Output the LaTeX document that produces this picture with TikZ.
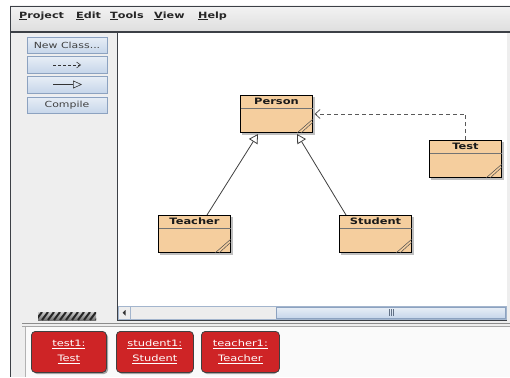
\documentclass[tikz,border=0pt]{standalone}
\usepackage{fontspec}
\newfontfamily\uifont[FakeStretch=1.3]{DejaVu Sans}
\usetikzlibrary{arrows.meta,calc}
\definecolor{peach}{RGB}{245,206,158}
\definecolor{objred}{RGB}{206,36,38}
\definecolor{panelgray}{RGB}{238,238,238}
\definecolor{benchbg}{RGB}{250,250,250}
\definecolor{btnborder}{RGB}{140,162,192}
\definecolor{btntop}{RGB}{232,238,246}
\definecolor{btnbot}{RGB}{198,214,234}
\definecolor{framedark}{RGB}{60,64,70}
\tikzset{
  classbox/.style={draw=black, line width=1pt, fill=peach, minimum width=72pt, minimum height=37pt, anchor=north west, inner sep=0pt},
  classname/.style={font=\uifont\bfseries\fontsize{8.8}{10}\selectfont, anchor=north, inner sep=0pt, text=black!90},
  btn/.style={draw=btnborder, top color=btntop, bottom color=btnbot, minimum width=80pt, minimum height=16.5pt, inner sep=0pt, font=\uifont\fontsize{8.4}{9}\selectfont, text=black!75},
  objbox/.style={draw=black!75, line width=0.8pt, fill=objred, rounded corners=4pt, minimum width=75pt, minimum height=41pt, anchor=north west, inner sep=0pt},
  objtext/.style={text=white, font=\uifont\fontsize{8.8}{15}\selectfont, align=center, inner sep=0pt},
  menuitem/.style={font=\uifont\bfseries\fontsize{8.6}{10}\selectfont, anchor=west, inner sep=0pt, text=black!85},
  inherit/.style={draw=black!75, line width=0.8pt, -{Triangle[open, length=9pt, width=10pt, fill=white]}},
  uses/.style={draw=black!65, line width=0.8pt, dash pattern=on 4pt off 3pt, -{Straight Barb[length=5pt, width=9pt]}},
  hatch/.style={draw=black!70, line width=0.5pt}
}
\newcommand{\hatchmarks}[1]{%
  \draw[hatch] ($(#1.south east)+(-16,0)$) -- ($(#1.south east)+(0,-14)$);
  \draw[hatch] ($(#1.south east)+(-12,0)$) -- ($(#1.south east)+(0,-11)$);}
\begin{document}
\begin{tikzpicture}[x=1pt,y=-1pt]
\useasboundingbox (0,0) rectangle (510,377);
\fill[white] (0,0) rectangle (510,377);
% window panels
\fill[panelgray] (10,6) rectangle (510,377);
\shade[top color=white!95!black, bottom color=black!13] (10,6) rectangle (510,32);
\draw[framedark, line width=1.2pt] (10,6.5) -- (510,6.5);
\draw[framedark, line width=1.2pt] (10,32) -- (510,32);
\draw[framedark, line width=1pt] (10.5,6) -- (10.5,377);
% menu
\node[menuitem] (mproject) at (19,16) {\underline{P}roject};
\node[menuitem] (medit) at (76,16) {\underline{E}dit};
\node[menuitem] (mtools) at (110,16) {\underline{T}ools};
\node[menuitem] (mview) at (154,16) {\underline{V}iew};
\node[menuitem] (mhelp) at (198,16) {\underline{H}elp};
% buttons
\node[btn] (bnew) at (67,45) {New Class...};
\node[btn] (bdep) at (67,64.5) {};
\node[btn] (binh) at (67,84.5) {};
\node[btn] (bcomp) at (67,105) {Compile};
\coordinate (d1) at (53,65);
\coordinate (d2) at (81,65);
\draw[black!80, line width=0.6pt, dash pattern=on 3pt off 2pt, -{Straight Barb[length=4pt, width=6pt]}] (d1) -- (d2);
\coordinate (i1) at (53,84.5);
\coordinate (i2) at (82,84.5);
\draw[black!80, line width=0.6pt, -{Triangle[open, length=9pt, width=8pt]}] (i1) -- (i2);
% canvas
\fill[white] (117,33) rectangle (507,320);
\draw[framedark, line width=1pt] (117.5,33) -- (117.5,320.5) -- (507,320.5);
% scrollbar
\fill[black!7] (118.5,306.5) rectangle (506,319);
\draw[btnborder!80] (118.5,306.5) rectangle (506,319);
\draw[btnborder!80] (130,306.5) -- (130,319);
\fill[black!80] (125.5,310) -- (125.5,315.5) -- (122.5,312.75) -- cycle;
\shade[top color=btntop, bottom color=btnbot, draw=btnborder] (276,307) rectangle (505,318.5);
\foreach \gx in {389,391,393} \draw[btnborder!70!black] (\gx,309) -- (\gx,316);
% separators
\draw[black!45] (22,323.5) -- (510,323.5);
\draw[black!35] (22,326.5) -- (510,326.5);
\fill[benchbg] (25,327) rectangle (510,377);
\draw[black!30] (25,327) -- (25,377);
% busy indicator
\begin{scope}
\clip (38,312) rectangle (96,320);
\shade[top color=black!20, bottom color=black!55] (38,312) rectangle (96,320);
\foreach \sx in {30,36,...,100} \draw[black!85, line width=2pt] (\sx,320) -- (\sx+6,312);
\end{scope}
% class boxes
\foreach \nm/\cx/\cy in {person/240/95, test/429/140, teacher/158/215, student/339/215}{
  \fill[black!25] (\cx+2,\cy+2) rectangle (\cx+74.5,\cy+39.5);
}
\node[classbox] (person) at (240,95) {};
\node[classbox] (test) at (429,140) {};
\node[classbox] (teacher) at (158,215) {};
\node[classbox] (student) at (339,215) {};
\foreach \nm in {person,test,teacher,student}{
  \draw[black!55, line width=0.8pt] ($(\nm.north west)+(0.5,13.5)$) -- ($(\nm.north east)+(-0.5,13.5)$);
  \hatchmarks{\nm}
}
\node[classname] (personlbl) at ($(person.north)+(0,2.7)$) {Person};
\node[classname] (testlbl) at ($(test.north)+(0,2.7)$) {Test};
\node[classname] (teacherlbl) at ($(teacher.north)+(0,2.7)$) {Teacher};
\node[classname] (studentlbl) at ($(student.north)+(0,2.7)$) {Student};
% relations
\draw[inherit] ($(teacher.north west)+(49,0)$) -- ($(person.south west)+(18,1)$);
\draw[inherit] ($(student.north west)+(7,0)$) -- ($(person.south west)+(57,1)$);
\draw[uses] (test.north) |- ($(person.east)+(1.5,0)$);
% object bench
\foreach \ox in {31,116,201}{
  \fill[black!35, rounded corners=4pt] (\ox+2,333) rectangle (\ox+77,374);
}
\node[objbox] (o1) at (31,331) {};
\node[objbox, minimum width=77pt] (o2) at (116,331) {};
\node[objbox, minimum width=78pt] (o3) at (201,331) {};
\node[objtext] (o1t) at (o1.center) {\underline{test1:}\\\underline{Test}};
\node[objtext] (o2t) at (o2.center) {\underline{student1:}\\\underline{Student}};
\node[objtext] (o3t) at (o3.center) {\underline{teacher1:}\\\underline{Teacher}};
\end{tikzpicture}
\end{document}
